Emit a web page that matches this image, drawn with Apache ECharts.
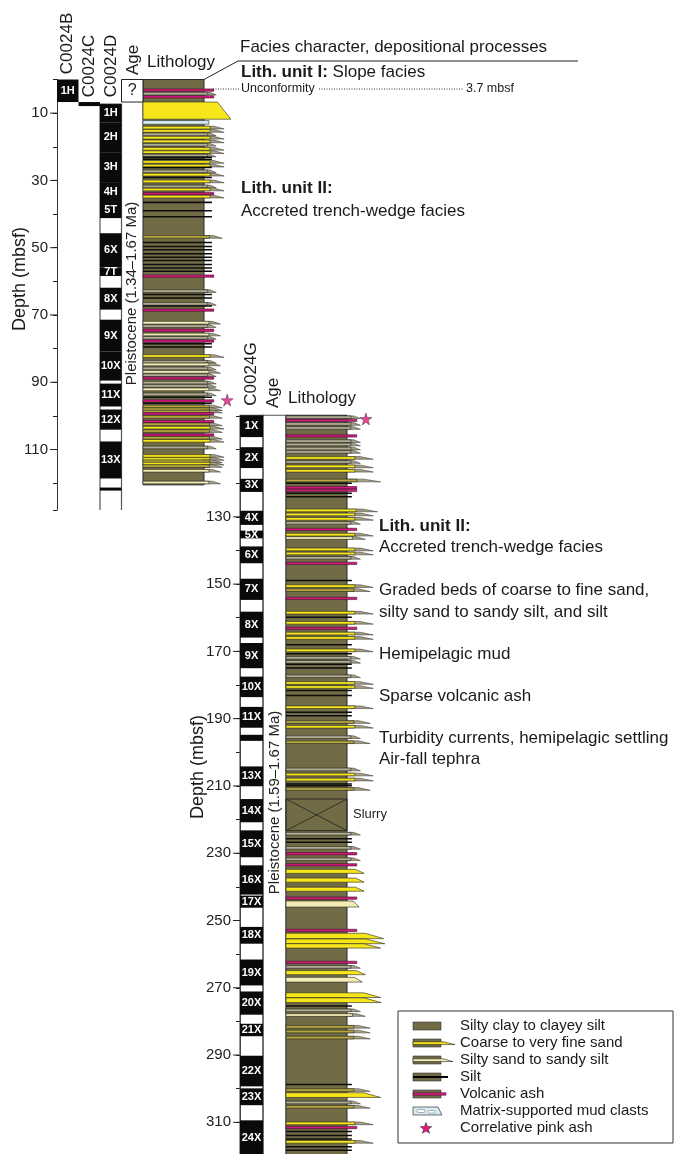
<!DOCTYPE html>
<html><head><meta charset="utf-8">
<script src="https://cdn.jsdelivr.net/npm/echarts@6/dist/echarts.min.js"></script>
<style>html,body{margin:0;padding:0;background:#fff}#c{width:678px;height:1154px}</style>
</head><body><div id="c"></div>
<script>
// ================= DATA =================
const upperCols = ['C0024B','C0024C','C0024D','Age'];
const lowerCols = ['C0024G','Age'];
const upperTicks = [10,30,50,70,90,110];
const lowerTicks = [130,150,170,190,210,230,250,270,290,310];
const depthName = 'Depth (mbsf)';
// cores: [column index, top mbsf, base mbsf, label]
const coresUpper = [
 [0,0,6.7,'1H'],[1,6.7,7.9,''],
 [2,7.3,12.7,'1H'],[2,12.7,21.6,'2H'],[2,21.6,30.5,'3H'],[2,30.5,36.4,'4H'],[2,36.4,41.2,'5T'],
 [2,45.7,55.9,'6X'],[2,55.9,58.4,'7T'],[2,61.9,68.4,'8X'],[2,71.4,80.9,'9X'],[2,80.9,89.5,'10X'],
 [2,90.4,97.2,'11X'],[2,98.1,104.1,'12X'],[2,107.6,118.6,'13X'],[2,121.3,122.2,'']
];
const coresLower = [
 [0,99.8,106.3,'1X'],[0,109.3,115.5,'2X'],[0,118.7,122.6,'3X'],[0,128.2,132.4,'4X'],[0,134.1,136.4,'5X'],
 [0,138.8,143.8,'6X'],[0,148.4,154.7,'7X'],[0,158.2,165.9,'8X'],[0,167.5,175.0,'9X'],[0,177.5,183.6,'10X'],
 [0,186.5,192.7,'11X'],[0,194.8,196.6,''],[0,204.2,210.1,'13X'],[0,213.9,220.8,'14X'],[0,223.2,231.2,'15X'],
 [0,233.6,242.3,'16X'],[0,242.6,246.2,'17X'],[0,251.9,256.9,'18X'],[0,261.6,269.3,'19X'],[0,271.1,278.0,'20X'],
 [0,280.7,284.4,'21X'],[0,290.2,299.3,'22X'],[0,299.9,304.9,'23X'],[0,309.4,320,'24X']
];
// column frames: [column index, top, base]
const framesUpper = [[2,7.3,128]];
const framesLower = [[0,99.8,330],[1,99.8,330]];
// age: [column index, top, base, text]
const ageUpper = [[3,0,6.7,'?'],[3,6.7,120.5,'Pleistocene (1.34\u20131.67 Ma)']];
const ageLower = [[1,99.8,330,'Pleistocene (1.59\u20131.67 Ma)']];
// lithology column extents [top, base]
const lithUpper = [[0,120.5]];
const lithLower = [[99.8,330]];
// beds: [top mbsf, type, thickness m (opt), grain extent (opt)]
// y sand, o olive sand, p silty sand, g grey silty sand, s silt, a ash, m mud clasts, x slurry
const bedsUpper = [
 [2.8,'a'],[3.8,'g'],[4.8,'a'],
 [6.7,'y',5.1,1.44],
 [12.2,'m',1.1],
 [13.9,'y'],[14.9,'y'],[15.9,'g'],[16.9,'y'],[18.0,'y'],[19.0,'g'],[20.2,'y'],[21.2,'y'],[22.2,'g'],
 [22.9,'s'],[23.5,'s'],[24.1,'y'],[25.2,'y'],[25.9,'s'],[26.9,'g'],[27.9,'y'],[28.9,'s'],[29.9,'y'],
 [31.4,'g'],[32.3,'y'],[33.6,'a'],[34.4,'y'],[36.3,'s'],[38.8,'s'],[40.6,'s'],[46.4,'o'],
 [48.2,'s'],[49.4,'s'],[50.4,'s'],[51.6,'s'],[52.6,'s'],[53.6,'s'],[54.8,'s'],[55.8,'s'],[56.8,'s'],
 [58.1,'a'],[62.5,'g'],[63.7,'s'],[64.7,'s'],[66.3,'g'],[67.1,'s'],[68.2,'a'],
 [71.9,'p'],[72.9,'g'],[74.2,'a'],[75.4,'p'],[76.4,'g'],[77.4,'a'],[78.3,'s'],[79.3,'s'],
 [81.8,'y'],[83.5,'g'],[84.3,'p'],[85.5,'g'],[86.5,'p'],[87.5,'g'],[88.4,'a'],
 [89.7,'g'],[90.7,'g'],[91.7,'p'],[93.2,'g'],[94.2,'s'],[95.2,'a'],[96.0,'s'],
 [96.8,'o'],[97.6,'o'],[98.3,'o'],[99.0,'a'],[99.9,'o'],[101.3,'a'],[102.1,'o'],[103.1,'y'],[104.1,'o'],
 [105.3,'a'],[106.1,'o'],[107.0,'y'],[109.0,'g'],
 [111.5,'y'],[112.4,'y'],[113.1,'o'],[113.8,'y'],[114.5,'o'],[115.9,'p'],[119.4,'p']
];
const bedsLower = [
 [100.0,'g'],[101.0,'a'],[102.0,'g'],[103.2,'g'],[105.6,'a'],[107.1,'g'],[108.1,'g'],[109.3,'g'],[110.3,'g'],
 [112.1,'y'],[113.3,'g'],[114.6,'y'],[115.9,'y'],[118.8,'o',0.8,1.55],[119.8,'s'],[121.0,'a'],[121.8,'a'],
 [122.8,'s'],[123.8,'s'],[127.7,'y',0.8,1.5],[128.9,'y'],[130.2,'y'],[131.4,'g'],[133.4,'a'],[134.9,'y'],
 [135.9,'p'],[139.3,'y'],[140.5,'y'],[141.8,'g'],[143.5,'a'],[148.7,'s'],[150.2,'y'],[151.4,'o'],[153.9,'a'],
 [158.1,'y'],[159.6,'s'],[161.1,'y'],[162.8,'a'],[164.3,'y'],[165.6,'y'],[167.8,'s'],[169.3,'y'],[170.5,'s'],
 [171.5,'g'],[172.7,'g'],[173.6,'s'],[174.7,'s'],[177.0,'g'],[179.0,'y'],[180.2,'y'],[181.4,'s'],[182.9,'s'],
 [186.2,'y'],[187.9,'s'],[188.9,'s'],[190.6,'o'],[192.0,'y'],[195.1,'g'],[196.6,'o'],
 [204.7,'g'],[206.2,'y'],[207.7,'y'],[209.2,'s'],[209.7,'s'],[210.5,'o'],
 [213.9,'x',9.4],
 [223.8,'g'],[225.5,'s'],[226.5,'s'],[228.0,'g'],[229.8,'a'],[231.4,'g'],[233.1,'a'],
 [234.8,'y',1.2,1.28],[237.4,'y',1.2,1.28],[240.1,'y',1.2,1.28],[243.0,'a'],[244.2,'p',1.8,1.2],
 [252.6,'a'],[253.8,'y',1.6,1.6],[255.5,'y',1.4,1.62],[256.9,'y',1.3,1.55],
 [262.1,'a'],[263.4,'g'],[264.9,'y',1.2,1.3],[266.9,'p',1.4,1.25],
 [271.5,'y',1.4,1.55],[273.0,'y',1.4,1.56],[275.2,'s'],[276.3,'g'],[277.7,'p'],
 [281.2,'o'],[282.6,'o'],[284.4,'o'],
 [298.5,'s'],[300.0,'o'],[301.2,'y',1.4,1.55],[303.7,'g'],[305.0,'o'],
 [309.9,'y'],[311.2,'a'],[312.5,'s'],[313.7,'s'],[314.7,'s'],[315.4,'y'],[317.0,'s'],[318.1,'s']
];
const pinkAshUpper = [95.3];
const pinkAshLower = [100.9];
const legendNames = ['Silty clay to clayey silt','Coarse to very fine sand','Silty sand to sandy silt',
 'Silt','Volcanic ash','Matrix-supported mud clasts','Correlative pink ash'];

// ================= STYLE / HELPERS =================
const FONT = '"Liberation Sans", Arial, Helvetica, sans-serif';
const OLIVE = '#716b46';
const COLORS = {y:'#f6e61a', o:'#b6a83c', p:'#f3ecb4', g:'#b1ad92', s:'#0d0d0d', a:'#d3177d', m:'#d3ebf1'};
const TIP = '#a8a384';
const TYPES = ['y','o','p','g','s','a','m','x'];
const THICK = {y:0.8,o:0.8,p:0.8,g:0.8,s:0.45,a:0.7,m:1.1,x:1};
const grainUpper = {y:1.33,o:1.3,p:1.27,g:1.2,s:1.13,a:1.16,m:1.08,x:1};
const grainLower = {y:1.43,o:1.38,p:1.3,g:1.22,s:1.08,a:1.16,m:1.08,x:1};
const STAR = 'path://M50,0 L61,35 L98,35 L68,57 L79,91 L50,70 L21,91 L32,57 L2,35 L39,35 Z';
function starPoints(cx, cy, r){
  const pts=[];
  for(let k=0;k<10;k++){
    const rr = k%2===0 ? r : r*0.42;
    const ang = -Math.PI/2 + k*Math.PI/5;
    pts.push([cx+rr*Math.cos(ang), cy+rr*Math.sin(ang)]);
  }
  return pts;
}

function prepBeds(beds, grain){
  return beds.map(b => [b[0], b[2]!=null?b[2]:THICK[b[1]], b[3]!=null?b[3]:grain[b[1]], TYPES.indexOf(b[1])]);
}
function bedRender(params, api){
  const top=api.value(0), th=api.value(1), g=api.value(2), t=TYPES[api.value(3)];
  const a=api.coord([0,top]), b=api.coord([0,top+th]);
  const x0=a[0], y0=a[1], y1=b[1];
  const xr=api.coord([1,top])[0], xg=api.coord([g,top])[0];
  const h=Math.max(y1-y0, t==='s'?1.5:2.2);
  if(t==='s') return {type:'rect', shape:{x:x0,y:y0,width:xg-x0,height:h}, style:{fill:COLORS.s}};
  if(t==='a') return {type:'rect', shape:{x:x0,y:y0,width:xg-x0,height:h}, style:{fill:COLORS.a, stroke:'#3a1828', lineWidth:0.6}};
  if(t==='m') return {type:'rect', shape:{x:x0,y:y0,width:xg-x0,height:h}, style:{fill:COLORS.m, stroke:'#333', lineWidth:0.6}};
  if(t==='x') return {type:'group', children:[
    {type:'rect', shape:{x:x0,y:y0,width:xr-x0,height:y1-y0}, style:{fill:'none', stroke:'#222', lineWidth:0.9}},
    {type:'line', shape:{x1:x0,y1:y0,x2:xr,y2:y1}, style:{stroke:'#222', lineWidth:0.8}},
    {type:'line', shape:{x1:x0,y1:y1,x2:xr,y2:y0}, style:{stroke:'#222', lineWidth:0.8}},
    {type:'text', x:xr+6, y:(y0+y1)/2, style:{text:'Slurry', font:'13px '+FONT, fill:'#222', align:'left', verticalAlign:'middle'}}
  ]};
  const xt = xr + (xg-xr)*0.5;
  if(h < 3.5){
    // thin graded bed: coloured band with a greyish tapering tip
    return {type:'group', children:[
      {type:'polygon', shape:{points:[[xr-2,y0],[xt,y0],[xg,y0+h],[xr-2,y0+h]]}, style:{fill:TIP, stroke:'#2a2a2a', lineWidth:0.5}},
      {type:'rect', shape:{x:x0,y:y0,width:xt-x0-(xt-xr)*0.4,height:h}, style:{fill:COLORS[t], stroke:'#262626', lineWidth:0.6}}
    ]};
  }
  return {type:'polygon', shape:{points:[[x0,y0],[xt,y0],[xg,y0+h],[x0,y0+h]]},
          style:{fill:COLORS[t], stroke:'#262626', lineWidth:0.6}};
}
function lithRender(params, api){
  const a=api.coord([0,api.value(0)]), b=api.coord([1,api.value(1)]);
  return {type:'rect', shape:{x:a[0],y:a[1],width:b[0]-a[0],height:b[1]-a[1]}, style:{fill:OLIVE, stroke:'#2b2b2b', lineWidth:1}};
}
function coreRenderFactory(list){
  return function(params, api){
    const ci=api.value(0), top=api.value(1), base=api.value(2);
    const p0=api.coord([ci,top]), p1=api.coord([ci,base]);
    const w=api.size([1,0])[0];
    const lab=list[params.dataIndex][3];
    const ch=[{type:'rect', shape:{x:p0[0]-w/2, y:p0[1], width:w, height:p1[1]-p0[1]}, style:{fill:'#0a0a0a'}}];
    if(lab) ch.push({type:'text', x:p0[0], y:(p0[1]+p1[1])/2,
      style:{text:lab, fill:'#fff', font:'bold 11px '+FONT, align:'center', verticalAlign:'middle'}});
    return {type:'group', children:ch};
  };
}
function frameRender(params, api){
  const ci=api.value(0), top=api.value(1), base=api.value(2);
  const p0=api.coord([ci,top]), p1=api.coord([ci,base]);
  const w=api.size([1,0])[0];
  const xl=p0[0]-w/2, xr=p0[0]+w/2;
  return {type:'polyline', shape:{points:[[xl,p1[1]],[xl,p0[1]],[xr,p0[1]],[xr,p1[1]]]},
          style:{fill:'none', stroke:'#555', lineWidth:1.2}};
}
function ageRenderFactory(list){
  return function(params, api){
    const ci=api.value(0), top=api.value(1), base=api.value(2);
    const p0=api.coord([ci,top]), p1=api.coord([ci,base]);
    const w=api.size([1,0])[0];
    const txt=list[params.dataIndex][3];
    if(txt.length<3){
      return {type:'group', children:[
        {type:'rect', shape:{x:p0[0]-w/2, y:p0[1], width:w, height:p1[1]-p0[1]}, style:{fill:'#fff', stroke:'#222', lineWidth:1}},
        {type:'text', x:p0[0], y:(p0[1]+p1[1])/2, style:{text:txt, fill:'#222', font:'16px '+FONT, align:'center', verticalAlign:'middle'}}
      ]};
    }
    return {type:'text', x:p0[0], y:(p0[1]+p1[1])/2, rotation:Math.PI/2,
      style:{text:txt, fill:'#222', font:'15px '+FONT, align:'center', verticalAlign:'middle'}};
  };
}
function tickRender(params, api){
  const p=api.coord([0,api.value(1)]);
  const x=params.coordSys.x;
  return {type:'line', shape:{x1:x-7,y1:p[1],x2:x,y2:p[1]}, style:{stroke:'#222', lineWidth:1}};
}

// ================= CHART =================
const chart = echarts.init(document.getElementById('c'), null, {renderer:'canvas'});
const PX = 3.364; // px per metre
const topU = 79.5, topL = 79.5 + 100*PX;
const yAxisBase = (gi, min, max, ticks, margin) => ({
  gridIndex:gi, type:'value', inverse:true, min:min, max:max, interval:10,
  axisLine:{show:true, lineStyle:{color:'#333', width:1}},
  axisTick:{show:true, length:4, lineStyle:{color:'#222'}},
  axisLabel:{show:true, margin:margin, fontSize:15, color:'#222', fontFamily:FONT,
    formatter: v => ticks.indexOf(v)>=0 ? String(v) : ''},
  splitLine:{show:false}
});
const hidY = (gi,min,max) => ({gridIndex:gi, type:'value', inverse:true, min:min, max:max, show:false, splitLine:{show:false}});

const txt = (t, x, y, extra) => Object.assign({type:'text', x:x, y:y, z:10,
  style:Object.assign({text:t, fill:'#1a1a1a', font:'17px '+FONT, align:'left', verticalAlign:'middle',
    rich:{b:{fontWeight:'bold', fontSize:17, fontFamily:FONT, fill:'#1a1a1a'}}}, extra||{})});
const rot = (t, x, y, size) => ({type:'text', x:x, y:y, rotation:Math.PI/2, z:10,
  style:{text:t, fill:'#1a1a1a', font:(size||17)+'px '+FONT, align:'center', verticalAlign:'middle'}});

// legend graphics
const legendEls = [];
const LY0 = 1026, LDY = 17, LX = 413;
legendEls.push({type:'rect', shape:{x:398,y:1011,width:275,height:132}, style:{fill:'#fff', stroke:'#333', lineWidth:1}, z:9});
legendNames.forEach((n,i) => {
  const y = LY0 + i*LDY;
  legendEls.push(txt(n, 460, y, {font:'15px '+FONT}));
  const olive = {type:'rect', z:10, shape:{x:LX,y:y-4,width:28,height:8}, style:{fill:OLIVE, stroke:'#333', lineWidth:0.6}};
  if(i===0) legendEls.push(olive);
  if(i===1 || i===2){
    legendEls.push(olive);
    legendEls.push({type:'polygon', z:11, shape:{points:[[LX,y-1.2],[LX+30,y-1.2],[LX+(i===1?42:40),y+1.6],[LX,y+1.6]]},
      style:{fill:i===1?COLORS.y:COLORS.p, stroke:'#222', lineWidth:0.6}});
  }
  if(i===3){
    legendEls.push(olive);
    legendEls.push({type:'line', z:11, shape:{x1:LX,y1:y,x2:LX+35,y2:y}, style:{stroke:'#000', lineWidth:2}});
  }
  if(i===4){
    legendEls.push(olive);
    legendEls.push({type:'rect', z:11, shape:{x:LX,y:y-1.3,width:33,height:2.6}, style:{fill:COLORS.a, stroke:'#3a1828', lineWidth:0.5}});
  }
  if(i===5){
    legendEls.push({type:'polygon', z:10, shape:{points:[[LX,y-4],[LX+25,y-4],[LX+29,y+4],[LX,y+4]]}, style:{fill:COLORS.m, stroke:'#333', lineWidth:0.7}});
    legendEls.push({type:'rect', z:11, shape:{x:LX+4,y:y-1.5,width:8,height:3,r:1.5}, style:{fill:'#fff', stroke:'#666', lineWidth:0.5}});
    legendEls.push({type:'rect', z:11, shape:{x:LX+15,y:y-0.5,width:7,height:2.6,r:1.3}, style:{fill:'#fff', stroke:'#666', lineWidth:0.5}});
  }
  if(i===6){
    legendEls.push({type:'polygon', z:11, shape:{points:starPoints(LX+13, y+0.5, 6)},
      style:{fill:'#e3197d', stroke:'#333', lineWidth:0.6}});
  }
});

const option = {
  backgroundColor:'#fff',
  animation:false,
  grid:[
    {left:57, top:topU, width:86, height:128*PX, outerBoundsMode:'none'},
    {left:143, top:topU, width:61, height:128*PX, outerBoundsMode:'none'},
    {left:240, top:topL, width:46, height:220*PX, outerBoundsMode:'none'},
    {left:286, top:topL, width:61, height:220*PX, outerBoundsMode:'none'}
  ],
  xAxis:[
    {gridIndex:0, type:'category', data:upperCols, show:false},
    {gridIndex:1, type:'value', min:0, max:1, show:false, splitLine:{show:false}},
    {gridIndex:2, type:'category', data:lowerCols, show:false},
    {gridIndex:3, type:'value', min:0, max:1, show:false, splitLine:{show:false}}
  ],
  yAxis:[
    yAxisBase(0, 0, 128, upperTicks, 9),
    hidY(1, 0, 128),
    yAxisBase(2, 100, 320, lowerTicks, 9),
    hidY(3, 100, 320)
  ],
  series:[
    {type:'custom', name:'lith-upper', xAxisIndex:1, yAxisIndex:1, clip:false, z:2, data:lithUpper, encode:{y:[0,1]}, renderItem:lithRender},
    {type:'custom', name:'lith-lower', xAxisIndex:3, yAxisIndex:3, clip:false, z:2, data:lithLower, encode:{y:[0,1]}, renderItem:lithRender},
    {type:'custom', name:'beds-upper', xAxisIndex:1, yAxisIndex:1, clip:false, z:3, data:prepBeds(bedsUpper, grainUpper), encode:{y:0}, renderItem:bedRender},
    {type:'custom', name:'beds-lower', xAxisIndex:3, yAxisIndex:3, clip:false, z:3, data:prepBeds(bedsLower, grainLower), encode:{y:0}, renderItem:bedRender},
    {type:'custom', name:'frames-upper', xAxisIndex:0, yAxisIndex:0, clip:false, z:2, data:framesUpper, encode:{x:0,y:[1,2]}, renderItem:frameRender},
    {type:'custom', name:'frames-lower', xAxisIndex:2, yAxisIndex:2, clip:false, z:2, data:framesLower, encode:{x:0,y:[1,2]}, renderItem:frameRender},
    {type:'custom', name:'cores-upper', xAxisIndex:0, yAxisIndex:0, clip:false, z:4, data:coresUpper.map(c=>c.slice(0,3)), encode:{x:0,y:[1,2]}, renderItem:coreRenderFactory(coresUpper)},
    {type:'custom', name:'cores-lower', xAxisIndex:2, yAxisIndex:2, clip:false, z:4, data:coresLower.map(c=>c.slice(0,3)), encode:{x:0,y:[1,2]}, renderItem:coreRenderFactory(coresLower)},
    {type:'custom', name:'age-upper', xAxisIndex:0, yAxisIndex:0, clip:false, z:4, data:ageUpper.map(c=>c.slice(0,3)), encode:{x:0,y:[1,2]}, renderItem:ageRenderFactory(ageUpper)},
    {type:'custom', name:'age-lower', xAxisIndex:2, yAxisIndex:2, clip:false, z:4, data:ageLower.map(c=>c.slice(0,3)), encode:{x:0,y:[1,2]}, renderItem:ageRenderFactory(ageLower)},
    {type:'custom', name:'ticks-upper', xAxisIndex:0, yAxisIndex:0, clip:false, z:4, data:upperTicks.map(v=>[0,v]), encode:{x:0,y:1}, renderItem:tickRender},
    {type:'custom', name:'ticks-lower', xAxisIndex:2, yAxisIndex:2, clip:false, z:4, data:lowerTicks.map(v=>[0,v]), encode:{x:0,y:1}, renderItem:tickRender},
    {type:'scatter', name:'pink-upper', xAxisIndex:1, yAxisIndex:1, z:5, symbol:STAR, symbolSize:12, clip:false,
      itemStyle:{color:'#e3197d', borderColor:'#333', borderWidth:0.6}, data:pinkAshUpper.map(d=>[1.38,d])},
    {type:'scatter', name:'pink-lower', xAxisIndex:3, yAxisIndex:3, z:5, symbol:STAR, symbolSize:12, clip:false,
      itemStyle:{color:'#e3197d', borderColor:'#333', borderWidth:0.6}, data:pinkAshLower.map(d=>[1.31,d])}
  ],
  graphic:{elements:[
    rot(upperCols[0], 67.5, 43.5), rot(upperCols[1], 89, 66), rot(upperCols[2], 111, 66), rot(upperCols[3], 133, 60),
    txt('Lithology', 147, 62),
    rot(lowerCols[0], 251, 374), rot(lowerCols[1], 273, 393),
    txt('Lithology', 288, 398),
    rot(depthName, 20, 279, 18), rot(depthName, 198, 767, 18),
    txt('Facies character, depositional processes', 240, 47),
    {type:'polyline', z:10, shape:{points:[[204,79.5],[238,61],[578,61]]}, style:{fill:'none', stroke:'#222', lineWidth:1}},
    txt('{b|Lith. unit I:} Slope facies', 241, 72),
    {type:'line', z:10, shape:{x1:213,y1:89,x2:240,y2:89}, style:{stroke:'#333', lineWidth:1, lineDash:[1,1.5]}},
    txt('Unconformity', 241, 89, {font:'12.5px '+FONT}),
    {type:'line', z:10, shape:{x1:319,y1:89,x2:464,y2:89}, style:{stroke:'#333', lineWidth:1, lineDash:[1,1.5]}},
    txt('3.7 mbsf', 466, 89, {font:'12.5px '+FONT}),
    txt('{b|Lith. unit II:}', 241, 188),
    txt('Accreted trench-wedge facies', 241, 211),
    txt('{b|Lith. unit II:}', 379, 526),
    txt('Accreted trench-wedge facies', 379, 547),
    txt('Graded beds of coarse to fine sand,', 379, 590),
    txt('silty sand to sandy silt, and silt', 379, 612),
    txt('Hemipelagic mud', 379, 654),
    txt('Sparse volcanic ash', 379, 696),
    txt('Turbidity currents, hemipelagic settling', 379, 738),
    txt('Air-fall tephra', 379, 759)
  ].concat(legendEls)}
};
chart.setOption(option);
</script>
</body></html>
